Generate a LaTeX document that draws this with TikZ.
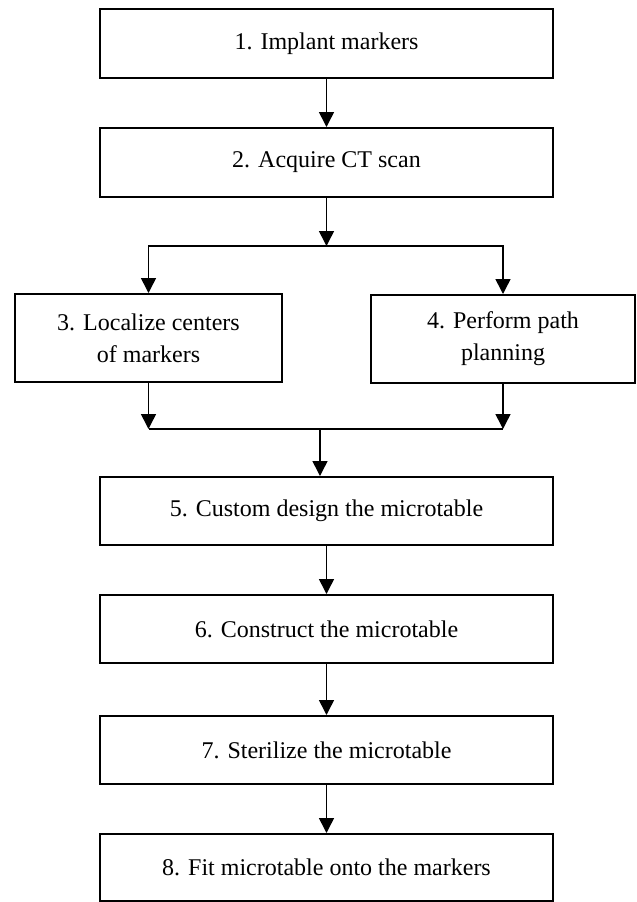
\documentclass[tikz,border=0pt]{standalone}
\usepackage{fontspec}
\setmainfont{Liberation Serif}
\usepackage{tikz}
\usetikzlibrary{arrows.meta, positioning, calc}

\begin{document}
\begin{tikzpicture}[x=0.5pt, y=-0.5pt,
    stepbox/.style={draw, line width=1pt, minimum width=226.5pt, minimum height=34pt,
        align=center, inner sep=0pt, font=\fontsize{12}{16}\selectfont},
    sidebox/.style={stepbox, minimum height=44pt},
    arr/.style={line width=0.75pt, -{Triangle[length=7.5pt, width=7.5pt]}}]
    \useasboundingbox (0, 0) rectangle (637, 902);

    % 步骤
    \node[stepbox, minimum height=34.5pt] (implant) at (326.5, 43.5) {1. Implant markers};
    \node[stepbox, minimum height=34.5pt] (scan) at (326.5, 162.5) {2. Acquire CT scan};
    \node[sidebox, minimum width=133.5pt] (localize) at (148.5, 338) {3. Localize centers\\of markers};
    \node[sidebox, minimum width=132pt] (plan) at (503, 339) {4. Perform path\\planning};
    \node[stepbox] (design) at (326.5, 511) {5. Custom design the microtable};
    \node[stepbox] (construct) at (326.5, 629) {6. Construct the microtable};
    \node[stepbox] (sterilize) at (326.5, 750) {7. Sterilize the microtable};
    \node[stepbox, minimum height=33.5pt] (fit) at (326.5, 867.5) {8. Fit microtable onto the markers};

    % 分支与汇合
    \coordinate (split) at (326.5, 246);
    \coordinate (merge) at (320, 429);

    \draw[arr] (implant) -- (scan);
    \draw[arr] (scan) -- (split);
    \draw[arr] (split) -| (localize.north);
    \draw[arr] (split) -| (plan.north);

    \draw[arr] (localize.south) -- (localize.south |- merge);
    \draw[arr] (plan.south) -- (plan.south |- merge);
    \draw[line width=0.75pt] (localize.south |- merge) -- (plan.south |- merge);
    \draw[arr] (merge) -- (merge |- design.north);

    \draw[arr] (design) -- (construct);
    \draw[arr] (construct) -- (sterilize);
    \draw[arr] (sterilize) -- (fit);
\end{tikzpicture}
\end{document}
